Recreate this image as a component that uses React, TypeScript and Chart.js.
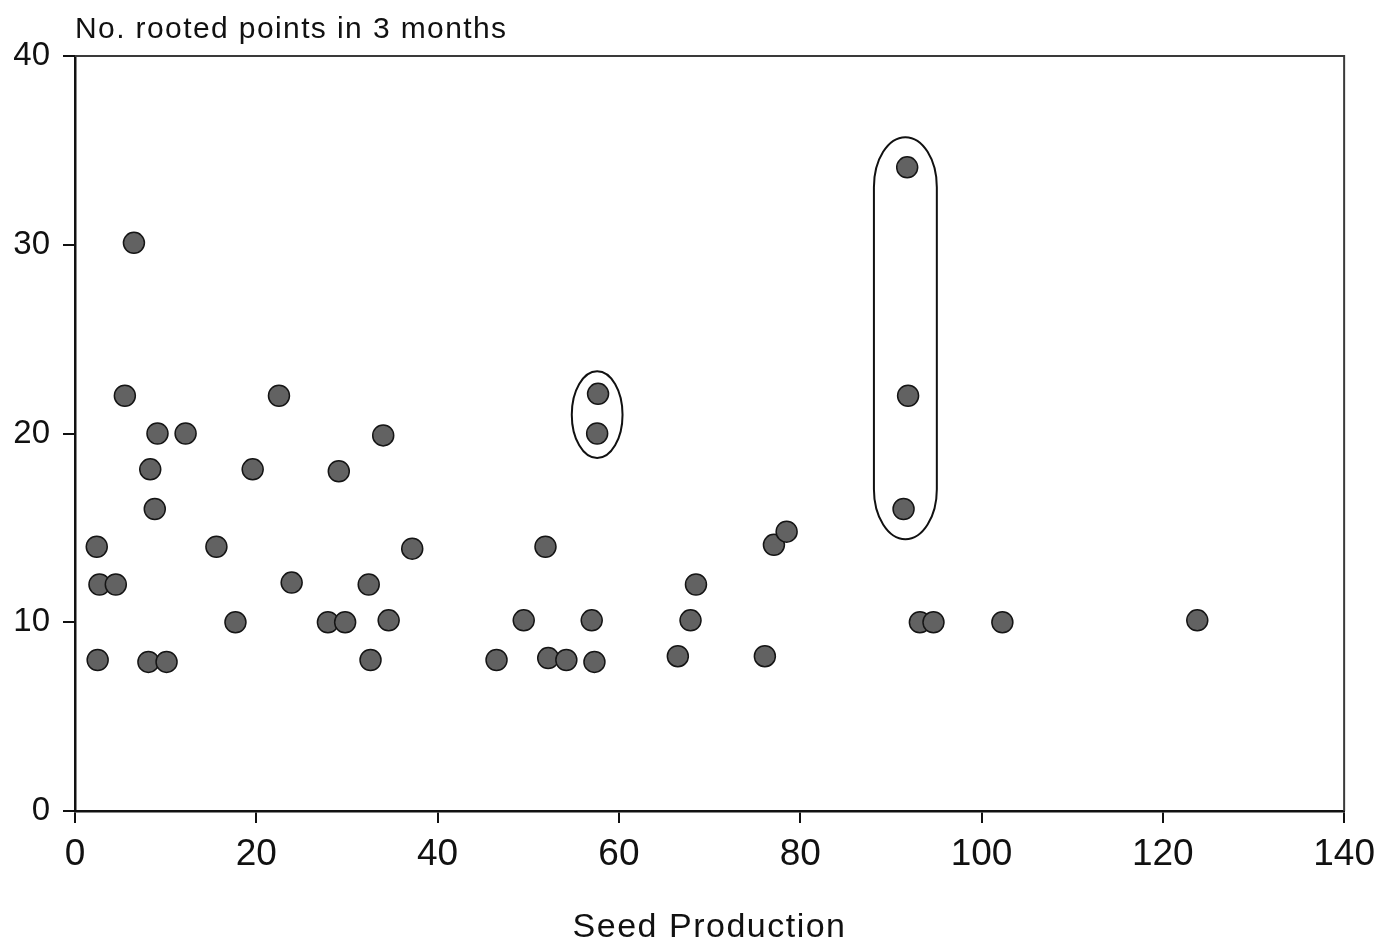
import React, { useEffect, useRef } from 'react';
import { Chart, registerables } from 'chart.js';

Chart.register(...registerables);

// ---- data ----
const seedProduction = [
  2.4, 2.7, 4.5, 2.5, 6.5, 5.5, 8.3, 9.1, 8.8, 8.1, 10.1, 12.2,
  15.6, 17.7, 19.6, 22.5, 23.9, 27.9, 29.8, 29.1, 32.4, 32.6, 34.0, 34.6,
  37.2, 46.5, 49.5, 51.9, 52.2, 54.2, 57.0, 57.3, 57.7, 57.6, 66.5, 67.9,
  68.5, 76.1, 77.1, 78.5, 91.8, 91.9, 91.4, 93.2, 94.7, 102.3, 123.8,
];
const rootedPoints = [
  14.0, 12.0, 12.0, 8.0, 30.1, 22.0, 18.1, 20.0, 16.0, 7.9, 7.9, 20.0,
  14.0, 10.0, 18.1, 22.0, 12.1, 10.0, 10.0, 18.0, 12.0, 8.0, 19.9, 10.1,
  13.9, 8.0, 10.1, 14.0, 8.1, 8.0, 10.1, 7.9, 22.1, 20.0, 8.2, 10.1,
  12.0, 8.2, 14.1, 14.8, 34.1, 22.0, 16.0, 10.0, 10.0, 10.0, 10.1,
];

const xMin = 0;
const xMax = 140;
const xStep = 20;
const yMin = 0;
const yMax = 40;
const yStep = 10;

const yAxisTitle = 'No. rooted points in 3 months';
const xAxisTitle = 'Seed Production';

// circled groups (data units)
const groupCentreX = [57.6, 91.6];
const groupHalfWidth = [2.8, 3.47];
const groupYLow = [18.7, 14.4];
const groupYHigh = [23.3, 35.7];

const FONT = "'Liberation Sans', Arial, Helvetica, sans-serif";

export default function App() {
  const canvasRef = useRef<HTMLCanvasElement | null>(null);

  useEffect(() => {
    document.body.style.margin = '0';
    const canvas = canvasRef.current;
    if (!canvas) return;

    const decorPlugin = {
      id: 'decor',
      beforeDatasetsDraw(chart: any) {
        const { ctx, chartArea } = chart;
        ctx.save();
        ctx.strokeStyle = '#3a3a3a';
        ctx.lineWidth = 2;
        ctx.beginPath();
        ctx.moveTo(chartArea.left, chartArea.top);
        ctx.lineTo(chartArea.right, chartArea.top);
        ctx.lineTo(chartArea.right, chartArea.bottom);
        ctx.stroke();
        ctx.restore();
      },
      afterDatasetsDraw(chart: any) {
        const { ctx } = chart;
        const xs = chart.scales.x;
        const ys = chart.scales.y;
        ctx.save();
        ctx.strokeStyle = '#111';
        ctx.lineWidth = 2;
        const capStyle = [1000, 50];
        for (let i = 0; i < groupCentreX.length; i++) {
          const cx = xs.getPixelForValue(groupCentreX[i]);
          const rx = Math.abs(xs.getPixelForValue(groupCentreX[i] + groupHalfWidth[i]) - cx);
          const top = ys.getPixelForValue(groupYHigh[i]);
          const bottom = ys.getPixelForValue(groupYLow[i]);
          const half = (bottom - top) / 2;
          const ry = Math.min(capStyle[i], half);
          ctx.beginPath();
          ctx.ellipse(cx, top + ry, rx, ry, 0, Math.PI, 2 * Math.PI);
          ctx.lineTo(cx + rx, bottom - ry);
          ctx.ellipse(cx, bottom - ry, rx, ry, 0, 0, Math.PI);
          ctx.closePath();
          ctx.stroke();
        }
        ctx.restore();
      },
      afterDraw(chart: any) {
        const { ctx, chartArea } = chart;
        ctx.save();
        ctx.fillStyle = '#111';
        ctx.textBaseline = 'alphabetic';
        ctx.font = `30px ${FONT}`;
        (ctx as any).letterSpacing = '1.4px';
        ctx.textAlign = 'left';
        ctx.fillText(yAxisTitle, chartArea.left, 38);
        ctx.font = `34px ${FONT}`;
        (ctx as any).letterSpacing = '1.5px';
        ctx.textAlign = 'center';
        ctx.fillText(xAxisTitle, (chartArea.left + chartArea.right) / 2, 937);
        ctx.restore();
      },
    };

    const chart = new Chart(canvas, {
      type: 'scatter',
      data: {
        datasets: [
          {
            data: seedProduction.map((x, i) => ({ x, y: rootedPoints[i] })),
            backgroundColor: '#626262',
            borderColor: '#151515',
            borderWidth: 1.5,
            pointRadius: 10.5,
            pointHoverRadius: 10.5,
          },
        ],
      },
      options: {
        animation: false,
        responsive: false,
        devicePixelRatio: 1,
        layout: { padding: { left: 0, top: 56, right: 36, bottom: 0 } },
        plugins: {
          legend: { display: false },
          tooltip: { enabled: false },
          title: { display: false },
        },
        scales: {
          x: {
            type: 'linear',
            min: xMin,
            max: xMax,
            afterFit(scale: any) {
              scale.height = 132;
            },
            ticks: {
              stepSize: xStep,
              color: '#111',
              padding: 10,
              font: { family: FONT, size: 37 },
            },
            grid: {
              display: true,
              drawOnChartArea: false,
              drawTicks: true,
              tickLength: 12,
              color: '#111',
              lineWidth: 2,
            },
            border: { display: true, color: '#111', width: 2.5 },
          },
          y: {
            type: 'linear',
            min: yMin,
            max: yMax,
            afterFit(scale: any) {
              scale.width = 75;
            },
            ticks: {
              stepSize: yStep,
              color: '#111',
              padding: 13,
              font: { family: FONT, size: 33 },
            },
            grid: {
              display: true,
              drawOnChartArea: false,
              drawTicks: true,
              tickLength: 12,
              color: '#111',
              lineWidth: 2,
            },
            border: { display: true, color: '#111', width: 2.5 },
          },
        },
      },
      plugins: [decorPlugin],
    } as any);

    return () => {
      chart.destroy();
    };
  }, []);

  return (
    <div style={{ width: 1385, height: 943, background: '#fff' }}>
      <canvas ref={canvasRef} width={1385} height={943} style={{ display: 'block' }} />
    </div>
  );
}
